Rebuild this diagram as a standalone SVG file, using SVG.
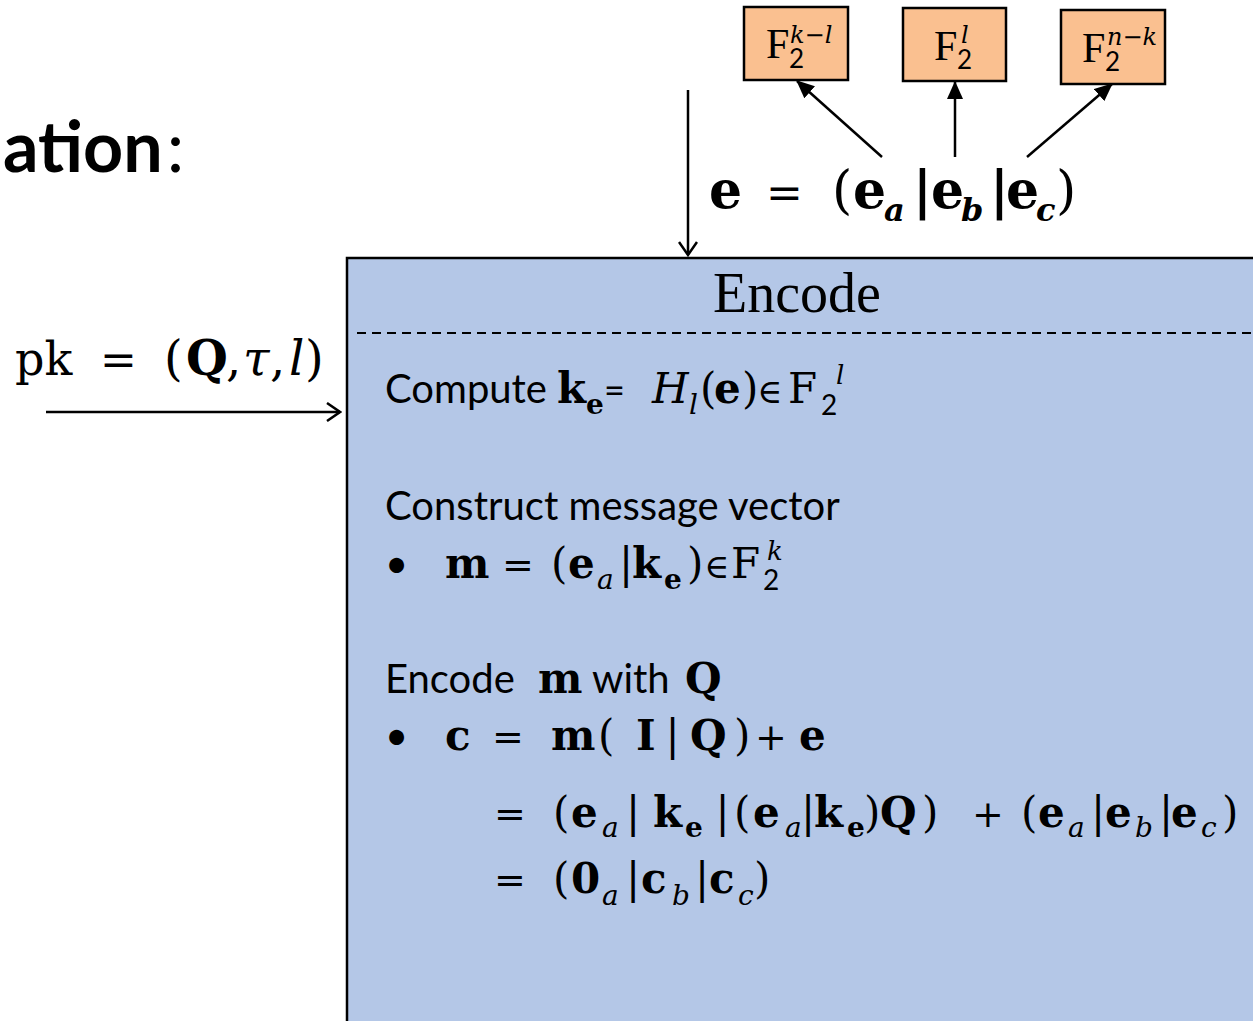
<svg xmlns="http://www.w3.org/2000/svg" width="1253" height="1021" viewBox="0 0 1253 1021">
<style>
.m{font-family:"DejaVu Serif","Liberation Serif",serif;fill:#000}
.t{font-family:"Liberation Serif","DejaVu Serif",serif;fill:#000}
.b{font-weight:bold}
.i{font-style:italic}
.n{font-weight:normal}
.s{font-family:Lato,"Liberation Sans",sans-serif;fill:#000}
.ln{stroke:#000;stroke-width:2.5;fill:none}
.box{fill:#FAC090;stroke:#000;stroke-width:2.5}
</style>
<defs>
<marker id="tri2" markerWidth="18" markerHeight="16" refX="17" refY="8" orient="auto" markerUnits="userSpaceOnUse" viewBox="0 0 18 16">
<path d="M0,0 L18,8 L0,16 Z" fill="#000"/>
</marker>
<marker id="chev" markerWidth="16" markerHeight="20" refX="14" refY="10" orient="auto" markerUnits="userSpaceOnUse" viewBox="0 0 16 20">
<path d="M1,1 L14,10 L1,19" fill="none" stroke="#000" stroke-width="2.5"/>
</marker>
</defs>

<g id="title">
<text x="3" y="172" class="s b" font-size="70">ation<tspan class="n" dx="4">:</tspan></text>
</g>

<g id="encode-box">
<rect x="347" y="258" width="1000" height="900" fill="#B4C7E7" stroke="#000" stroke-width="2.5"/>
<text x="797" y="312" class="t" font-size="56" text-anchor="middle">Encode</text>
<line x1="357" y1="333" x2="1253" y2="333" stroke="#000" stroke-width="2" stroke-dasharray="9 6"/>

<text class="m" font-size="42">
<tspan class="s" font-size="40" x="385" y="403">Compute</tspan>
<tspan class="b" x="557" y="403">k</tspan>
<tspan class="b" font-size="28" x="586" y="414">e</tspan>
<tspan class="s" font-size="36" x="604" y="403">=</tspan>
<tspan class="i" x="652" y="403">H</tspan>
<tspan class="i" font-size="28" x="689" y="414">l</tspan>
<tspan x="700" y="403">(</tspan>
<tspan class="b" x="714" y="403">e</tspan>
<tspan x="742" y="403">)</tspan>
<tspan font-size="34" x="757" y="403">∈</tspan>
<tspan x="788" y="403">F</tspan>
<tspan class="s" font-size="28" x="821" y="415">2</tspan>
<tspan class="i" font-size="26" x="836" y="384">l</tspan>
</text>

<text x="385" y="520" class="s" font-size="40">Construct message vector</text>

<text class="m" font-size="42">
<tspan class="s" font-size="40" x="385" y="578">•</tspan>
<tspan class="b" x="445" y="578">m</tspan>
<tspan font-size="38" x="502" y="578">=</tspan>
<tspan x="551" y="578">(</tspan>
<tspan class="b" x="568" y="578">e</tspan>
<tspan class="i" font-size="28" x="597" y="589">a</tspan>
<tspan x="619" y="578">|</tspan>
<tspan class="b" x="632" y="578">k</tspan>
<tspan class="b" font-size="28" x="664" y="589">e</tspan>
<tspan x="687" y="578">)</tspan>
<tspan font-size="34" x="704" y="578">∈</tspan>
<tspan x="731" y="578">F</tspan>
<tspan class="s" font-size="28" x="763" y="590">2</tspan>
<tspan class="i" font-size="26" x="767" y="560">k</tspan>
</text>

<text class="m" font-size="42">
<tspan class="s" font-size="40" x="385" y="693">Encode</tspan>
<tspan class="b" x="538" y="693">m</tspan>
<tspan class="s" font-size="40" x="592" y="693">with</tspan>
<tspan class="b" x="685" y="693">Q</tspan>
</text>

<text class="m" font-size="42">
<tspan class="s" font-size="40" x="385" y="750">•</tspan>
<tspan class="b" x="445" y="750">c</tspan>
<tspan font-size="38" x="492" y="750">=</tspan>
<tspan class="b" x="551" y="750">m</tspan>
<tspan x="598" y="750">(</tspan>
<tspan class="b" x="636" y="750">I</tspan>
<tspan x="665.5" y="750">|</tspan>
<tspan class="b" x="690" y="750">Q</tspan>
<tspan x="734" y="750">)</tspan>
<tspan font-size="38" x="755" y="750">+</tspan>
<tspan class="b" x="799" y="750">e</tspan>
</text>

<text class="m" font-size="42">
<tspan font-size="38" x="494" y="827">=</tspan>
<tspan x="553" y="827">(</tspan>
<tspan class="b" x="571" y="827">e</tspan>
<tspan class="i" font-size="28" x="602" y="837">a</tspan>
<tspan x="626" y="827">|</tspan>
<tspan class="b" x="653" y="827">k</tspan>
<tspan class="b" font-size="28" x="685" y="837">e</tspan>
<tspan x="715.5" y="827">|</tspan>
<tspan x="734" y="827">(</tspan>
<tspan class="b" x="753" y="827">e</tspan>
<tspan class="i" font-size="28" x="785" y="837">a</tspan>
<tspan x="801" y="827">|</tspan>
<tspan class="b" x="814" y="827">k</tspan>
<tspan class="b" font-size="28" x="847" y="837">e</tspan>
<tspan x="864" y="827">)</tspan>
<tspan class="b" x="880" y="827">Q</tspan>
<tspan x="922" y="827">)</tspan>
<tspan font-size="38" x="972" y="827">+</tspan>
<tspan x="1021" y="827">(</tspan>
<tspan class="b" x="1038" y="827">e</tspan>
<tspan class="i" font-size="28" x="1068" y="837">a</tspan>
<tspan x="1091" y="827">|</tspan>
<tspan class="b" x="1105" y="827">e</tspan>
<tspan class="i" font-size="28" x="1135" y="837">b</tspan>
<tspan x="1159" y="827">|</tspan>
<tspan class="b" x="1171" y="827">e</tspan>
<tspan class="i" font-size="28" x="1201" y="837">c</tspan>
<tspan x="1222" y="827">)</tspan>
</text>

<text class="m" font-size="42">
<tspan font-size="38" x="494" y="893">=</tspan>
<tspan x="553" y="893">(</tspan>
<tspan class="b" x="571" y="893">0</tspan>
<tspan class="i" font-size="28" x="602" y="905">a</tspan>
<tspan x="626" y="893">|</tspan>
<tspan class="b" x="641" y="893">c</tspan>
<tspan class="i" font-size="28" x="672" y="905">b</tspan>
<tspan x="695" y="893">|</tspan>
<tspan class="b" x="709" y="893">c</tspan>
<tspan class="i" font-size="28" x="738" y="905">c</tspan>
<tspan x="754" y="893">)</tspan>
</text>
</g>

<g id="field-ka">
<rect class="box" x="744" y="7" width="104" height="73"/>
<text class="t" font-size="42"><tspan x="766" y="58">F</tspan><tspan class="s" font-size="26" x="789" y="68">2</tspan><tspan class="m i" font-size="24" x="790" y="43">k−l</tspan></text>
</g>
<g id="field-l">
<rect class="box" x="903" y="8" width="103" height="73"/>
<text class="t" font-size="42"><tspan x="934" y="60">F</tspan><tspan class="s" font-size="26" x="957" y="69">2</tspan><tspan class="m i" font-size="24" x="961" y="43">l</tspan></text>
</g>
<g id="field-nk">
<rect class="box" x="1061" y="10" width="104" height="74"/>
<text class="t" font-size="42"><tspan x="1082" y="62">F</tspan><tspan class="s" font-size="26" x="1105" y="71">2</tspan><tspan class="m i" font-size="24" x="1107" y="45">n−k</tspan></text>
</g>

<g id="error-vector">
<text class="m b" font-size="52">
<tspan x="709" y="208">e</tspan>
<tspan class="n" font-size="44" x="766" y="208">=</tspan>
<tspan class="n" x="832" y="208">(</tspan>
<tspan x="853" y="208">e</tspan>
<tspan class="i" font-size="32" x="884" y="221">a</tspan>
<tspan x="913" y="208">|</tspan>
<tspan x="931" y="208">e</tspan>
<tspan class="i" font-size="32" x="961" y="221">b</tspan>
<tspan x="990" y="208">|</tspan>
<tspan x="1006" y="208">e</tspan>
<tspan class="i" font-size="32" x="1036" y="221">c</tspan>
<tspan class="n" x="1056" y="208">)</tspan>
</text>
</g>

<g id="public-key">
<text class="m" font-size="48">
<tspan font-size="46" x="15" y="375">pk</tspan>
<tspan font-size="44" x="100" y="375">=</tspan>
<tspan x="164" y="375">(</tspan>
<tspan class="b" x="186" y="375">Q</tspan>
<tspan x="226" y="375">,</tspan>
<tspan class="i" x="243" y="375">τ</tspan>
<tspan x="270" y="375">,</tspan>
<tspan class="i" x="289" y="375">l</tspan>
<tspan x="305" y="375">)</tspan>
</text>
</g>

<g id="connectors">
<line class="ln" x1="46" y1="412" x2="340" y2="412" marker-end="url(#chev)"/>
<line class="ln" x1="688" y1="90" x2="688" y2="255" marker-end="url(#chev)"/>
<line class="ln" x1="882" y1="157" x2="797" y2="81" marker-end="url(#tri2)"/>
<line class="ln" x1="955" y1="157" x2="955" y2="82" marker-end="url(#tri2)"/>
<line class="ln" x1="1027" y1="157" x2="1112" y2="84" marker-end="url(#tri2)"/>
</g>
</svg>
